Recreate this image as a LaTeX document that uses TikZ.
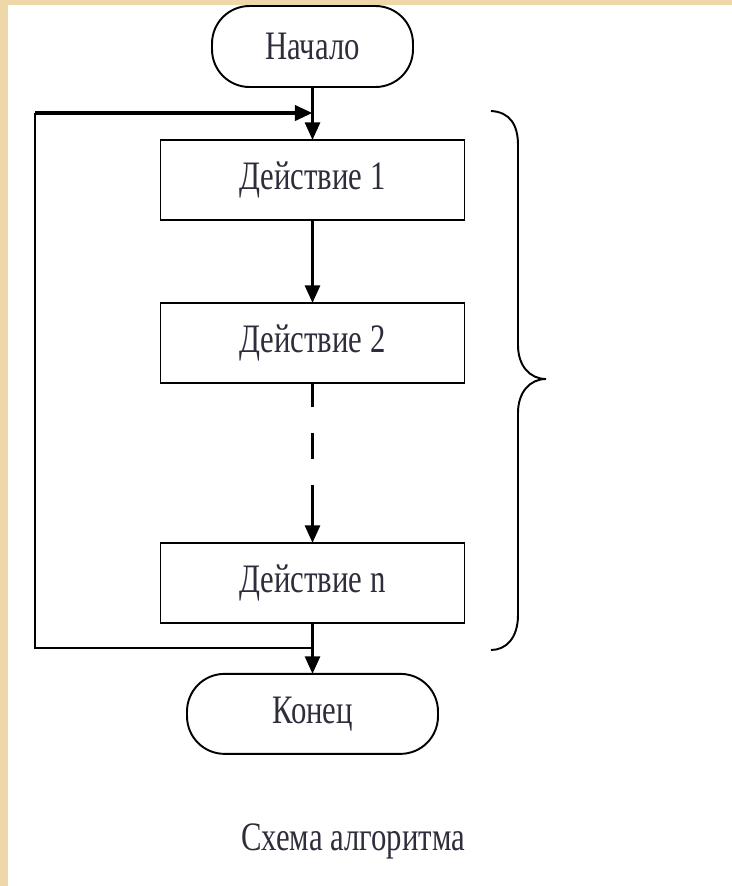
\documentclass[tikz,border=0pt]{standalone}
\usepackage{fontspec}
\setmainfont{Liberation Serif}[FakeStretch=0.76]
\usetikzlibrary{arrows.meta,positioning}
\definecolor{frame}{RGB}{238,216,170}
\definecolor{ink}{RGB}{45,45,60}

\begin{document}
\begin{tikzpicture}[
        x=0.02cm, y=-0.02cm,
        act/.style={rectangle, draw, line width=1.1pt, minimum width=6.08cm, minimum height=1.6cm, outer sep=0pt, text=ink, font=\fontsize{23}{26}\selectfont},
        term/.style={act, rounded corners=0.75cm, minimum height=1.62cm},
        flow/.style={line width=1.7pt, -{Triangle[width=8.5pt,length=10pt]}},
        loopline/.style={line width=1.1pt}
    ]
    % background
    \fill[frame] (0,0) rectangle (732,886);
    \fill[white] (8,5) rectangle (732,886);
    \useasboundingbox (0,0) rectangle (732,886);

    \node[term, minimum width=4.02cm] (start) at (312.5,46.5) {Начало};
    \node[act, below=1.06cm of start] (act1) {Действие 1};
    \node[act, below=1.66cm of act1] (act2) {Действие 2};
    \node[act, below=3.2cm of act2] (actn) {Действие n};
    \node[term, minimum width=5.02cm, minimum height=1.6cm, below=1.02cm of actn] (end) {Конец};
    \node[text=ink, font=\fontsize{23}{26}\selectfont] (title) at (353,841) {Схема алгоритма};

    \coordinate (loopT) at (35,113);
    \coordinate (loopB) at (35,648);

    \draw[flow] (start) -- (act1);
    \draw[flow] (act1) -- (act2);
    \draw[flow, dash pattern=on 0.48cm off 0.52cm on 0.52cm off 0.52cm on 3cm] (act2) -- (actn);
    \draw[flow] (actn) -- (end);
    \draw[loopline] (actn.south |- loopB) -- (loopB) -- (loopT);
    \draw[flow, line width=2.3pt] (loopT) -- (act1.north |- loopT);

    % brace
    \draw[line width=1.1pt] (491,111) .. controls (510,112) and (518,125) .. (518,145)
        -- (518,345) .. controls (518,366) and (530,379) .. (546,379)
        .. controls (530,379) and (518,392) .. (518,413)
        -- (518,615) .. controls (518,638) and (506,650) .. (491,650);
\end{tikzpicture}
\end{document}
